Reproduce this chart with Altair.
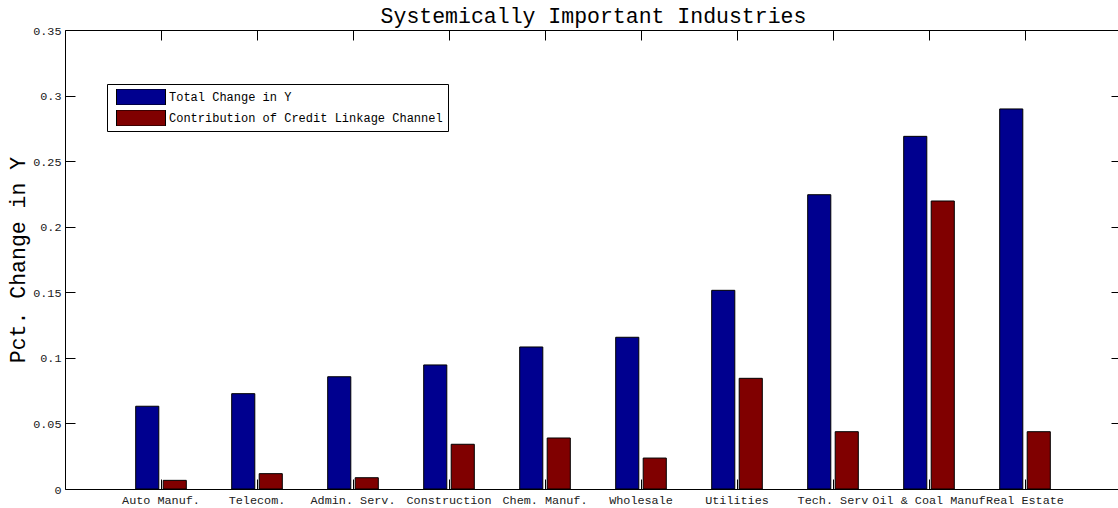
import altair as alt
import pandas as pd

# Industries in plotting order and the two bar series per industry
industries = [
    "Auto Manuf.", "Telecom.", "Admin. Serv.", "Construction", "Chem. Manuf.",
    "Wholesale", "Utilities", "Tech. Serv", "Oil & Coal Manuf", "Real Estate",
]
total_change = [0.0631, 0.0727, 0.0856, 0.0946, 0.1083, 0.1157, 0.1515, 0.2244, 0.2689, 0.2898]
credit_channel = [0.0066, 0.0117, 0.0086, 0.0341, 0.0389, 0.0236, 0.0844, 0.0437, 0.2196, 0.0437]

series_names = ["Total Change in Y", "Contribution of Credit Linkage Channel"]
series_colors = ["#00008F", "#800000"]
y_ticks = [0, 0.05, 0.1, 0.15, 0.2, 0.25, 0.3, 0.35]

rows = []
for name, vals in zip(series_names, [total_change, credit_channel]):
    for ind, v in zip(industries, vals):
        rows.append({"industry": ind, "series": name, "value": v})
df = pd.DataFrame(rows)

FONT = "Liberation Mono"
TICK = 10
PLOT_W = 1056
PLOT_H = 459

x_scale = alt.Scale(paddingInner=0, paddingOuter=0.5)
y_scale = alt.Scale(domain=[0, 0.35], nice=False)

# Bars with the bottom and left axes (ticks drawn inward)
bars = alt.Chart(df).mark_bar(stroke="black", strokeWidth=1).encode(
    x=alt.X(
        "industry:N", sort=industries, scale=x_scale, title=None,
        axis=alt.Axis(
            orient="bottom", offset=-TICK, tickSize=TICK, domain=False,
            labelAngle=0, labelPadding=5, labelOverlap=False, labelBound=False,
            labelFont=FONT, labelFontSize=11.8, labelColor="#202020",
            tickColor="black", labelLimit=300,
        ),
    ),
    xOffset=alt.XOffset(
        "series:N", sort=series_names,
        scale=alt.Scale(paddingInner=0.16, paddingOuter=0.825),
    ),
    y=alt.Y(
        "value:Q", scale=y_scale, title="Pct. Change in Y",
        axis=alt.Axis(
            orient="left", offset=-TICK, tickSize=TICK, domain=False,
            values=y_ticks, format=".2~f", grid=False,
            labelPadding=4, labelFont=FONT, labelFontSize=11.8, labelColor="#202020",
            tickColor="black",
            titleFont=FONT, titleFontSize=21.5, titleFontWeight="normal",
            titleColor="black", titleAngle=270, titleAlign="center",
            titleBaseline="alphabetic", titleX=-51, titleY=PLOT_H / 2,
        ),
    ),
    color=alt.Color(
        "series:N", sort=series_names,
        scale=alt.Scale(domain=series_names, range=series_colors),
        legend=alt.Legend(
            title=None, orient="none", legendX=42, legendY=54,
            padding=5, fillColor="white", strokeColor="black",
            symbolType="M-1,-0.3265H1V0.3265H-1Z", symbolSize=2401,
            symbolStrokeColor="black", symbolStrokeWidth=1,
            symbolOffset=4, clipHeight=16, rowPadding=5,
            labelOffset=3, labelFont=FONT, labelFontSize=12,
            labelColor="black", labelLimit=400,
        ),
    ),
)

# Invisible copy carrying the top and right axes (inward ticks, no labels)
tick_frame = alt.Chart(df).mark_bar(opacity=0).encode(
    x=alt.X(
        "industry:N", sort=industries, scale=x_scale, title=None,
        axis=alt.Axis(
            orient="top", offset=-TICK, tickSize=TICK, domain=False,
            labels=False, tickColor="black",
        ),
    ),
    y=alt.Y(
        "value:Q", scale=y_scale, title=None,
        axis=alt.Axis(
            orient="right", offset=-TICK, tickSize=TICK, domain=False,
            values=y_ticks, labels=False, grid=False, tickColor="black",
        ),
    ),
)

# Box lines along the bottom and left edges
box_bl = alt.Chart(df).mark_bar(opacity=0).encode(
    x=alt.X(
        "industry:N", sort=industries, scale=x_scale, title=None,
        axis=alt.Axis(orient="bottom", domain=True, domainColor="black",
                      ticks=False, labels=False),
    ),
    y=alt.Y(
        "value:Q", scale=y_scale, title=None,
        axis=alt.Axis(orient="left", domain=True, domainColor="black",
                      ticks=False, labels=False, grid=False),
    ),
)

# Box line along the top edge, which also carries the heading
box_top = alt.Chart(df).mark_bar(opacity=0).encode(
    x=alt.X(
        "industry:N", sort=industries, scale=x_scale,
        title="Systemically Important Industries",
        axis=alt.Axis(orient="top", domain=True, domainColor="black",
                      ticks=False, labels=False,
                      titleFont=FONT, titleFontSize=21.5, titleFontWeight="normal",
                      titleColor="black", titleAlign="center",
                      titleBaseline="alphabetic", titleX=PLOT_W / 2, titleY=-8),
    ),
    y=alt.Y("value:Q", scale=y_scale, axis=None),
)

chart = (
    alt.layer(bars, tick_frame, box_bl, box_top)
    .resolve_axis(x="independent", y="independent")
    .properties(
        width=PLOT_W,
        height=PLOT_H,
        autosize=alt.AutoSizeParams(type="none"),
        padding={"left": 65, "top": 30, "right": -3, "bottom": 19},
    )
    .configure_view(stroke=None)
    .configure(background="white")
)

chart.save("out.html", embed_options={"renderer": "svg", "actions": False})
